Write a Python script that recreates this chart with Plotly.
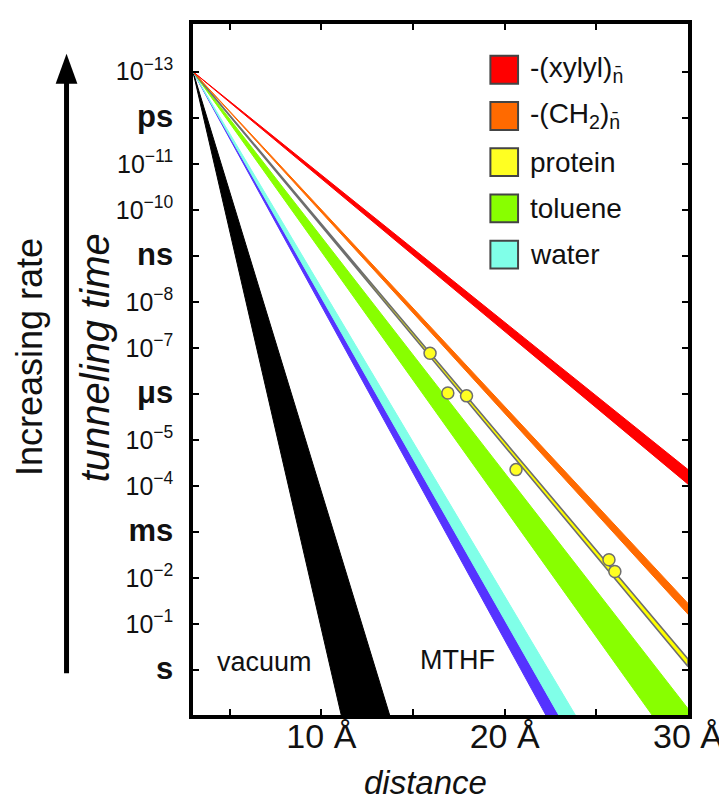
import numpy as np
import plotly.graph_objects as go

# ---------------- data ----------------
origin_distance = 3.0      # Å, common origin of all bands
origin_time = 1e-13        # s
end_distance = 30.0        # Å

band_names = ["vacuum", "MTHF", "water", "toluene", "protein", "-(CH2)n", "-(xylyl)n"]
beta_low = [3.00, 1.613, 1.543, 1.180, 1.088, 0.985, 0.737]    # Å^-1
beta_high = [3.98, 1.672, 1.613, 1.285, 1.102, 1.005, 0.764]   # Å^-1
band_fill = ["#000000", "#5533FF", "#80FFE8", "#88FF00", "#FFFF00", "#FF6A00", "#FF0000"]
band_edge = ["#000000", "#5533FF", "#80FFE8", "#88FF00", "#6E6E6E", "#FF6A00", "#FF0000"]
band_edge_width = [1, 1, 1, 1, 1.6, 1, 1]

protein_distance = [15.93, 16.90, 17.92, 20.62, 25.69, 26.01]
protein_time = [1.3e-7, 9.5e-7, 1.1e-6, 4.4e-5, 4.0e-3, 7.2e-3]

legend_labels = ["-(xylyl)<sub>n̄</sub>", "-(CH<sub>2</sub>)<sub>n̄</sub>", "protein", "toluene", "water"]
legend_colors = ["#FF0000", "#FF6A00", "#FFFF22", "#88FF00", "#80FFE8"]

x_tickvals = [5, 10, 15, 20, 25, 30]
x_ticktext = ["", "10 Å", "", "20 Å", "", "30 Å"]

y_tickvals = [1e-13, 1e-12, 1e-11, 1e-10, 1e-9, 1e-8, 1e-7, 1e-6, 1e-5, 1e-4, 1e-3, 1e-2, 1e-1, 1e0]
y_ticktext = ["10<sup>−13</sup>", "<b>ps</b>", "10<sup>−11</sup>", "10<sup>−10</sup>", "<b>ns</b>",
              "10<sup>−8</sup>", "10<sup>−7</sup>", "<b>μs</b>", "10<sup>−5</sup>", "10<sup>−4</sup>",
              "<b>ms</b>", "10<sup>−2</sup>", "10<sup>−1</sup>", "<b>s</b>"]

# ---------------- layout geometry ----------------
W, H = 727, 803
L, R, T, B = 185, 41, 12, 96
PW, PH = W - L - R, H - T - B


def px(xp):
    return (xp - L) / PW


def py(yp):
    return (H - B - yp) / PH


def big(t):
    if t.startswith("<b>"):
        return '<span style="font-size:31px">' + t + "</span>"
    return t


FONT = "Liberation Sans, Arial, sans-serif"
fig = go.Figure()

for name, bl, bh, fc, ec, ew in zip(band_names, beta_low, beta_high, band_fill, band_edge, band_edge_width):
    t_low = origin_time * np.exp(bl * (end_distance - origin_distance))
    t_high = origin_time * np.exp(bh * (end_distance - origin_distance))
    fig.add_trace(go.Scatter(
        x=[origin_distance, end_distance, end_distance, origin_distance],
        y=[origin_time, t_low, t_high, origin_time],
        mode="lines", fill="toself", fillcolor=fc,
        line=dict(color=ec, width=ew), name=name, showlegend=False, hoverinfo="skip"))

fig.add_trace(go.Scatter(
    x=protein_distance, y=protein_time, mode="markers",
    marker=dict(size=12, color="#FFFF22", line=dict(color="#6E6E6E", width=1.5)),
    showlegend=False))

fig.update_xaxes(
    range=[origin_distance, end_distance], tickvals=x_tickvals, ticktext=x_ticktext,
    ticks="inside", ticklen=6, tickwidth=2, tickcolor="black",
    showline=True, linewidth=3.5, linecolor="black", mirror="ticks",
    showgrid=False, zeroline=False, tickfont=dict(size=34, color="#111", family=FONT),
    ticklabelstandoff=-12)

fig.update_yaxes(
    type="log", range=[0.974, -14.037], tickvals=y_tickvals,
    ticktext=[big(t) for t in y_ticktext],
    ticks="inside", ticklen=6, tickwidth=2, tickcolor="black",
    showline=True, linewidth=3.5, linecolor="black", mirror="ticks",
    showgrid=False, zeroline=False, tickfont=dict(size=25, color="#111", family=FONT),
    ticklabelstandoff=11)

annotations = [
    dict(text="vacuum", x=px(257), y=py(654), font=dict(size=27)),
    dict(text="MTHF", x=px(453), y=py(652), font=dict(size=27)),
    dict(text="<i>distance</i>", x=px(420), y=py(775), font=dict(size=33)),
    dict(text="Increasing rate", x=px(19), y=py(347), font=dict(size=36), textangle=-90),
    dict(text="<i>tunneling time</i>", x=px(86), y=py(348), font=dict(size=40), textangle=-90),
]
shapes = [
    dict(type="line", x0=px(57), x1=px(57), y0=py(665), y1=py(62),
         line=dict(color="black", width=5)),
    dict(type="path", path=f"M {px(46)} {py(72)} L {px(68)} {py(72)} L {px(57)} {py(42)} Z",
         fillcolor="black", line=dict(width=0)),
]

row_y = [58, 104.5, 151, 197.5, 244]
for lab, col, yy in zip(legend_labels, legend_colors, row_y):
    shapes.append(dict(type="rect", x0=px(486), x1=px(514), y0=py(yy - 14), y1=py(yy + 14),
                       fillcolor=col, line=dict(color="#444", width=2)))
    annotations.append(dict(text=lab, x=px(524), y=py(yy), xanchor="left", font=dict(size=28)))

for a in annotations:
    a.setdefault("xanchor", "center")
    a["xref"] = "paper"
    a["yref"] = "paper"
    a["showarrow"] = False
    a["yanchor"] = "middle"
    a["font"].update(color="#111", family=FONT)
for s in shapes:
    s["xref"] = "paper"
    s["yref"] = "paper"

fig.update_layout(
    width=W, height=H, margin=dict(l=L, r=R, t=T, b=B),
    paper_bgcolor="white", plot_bgcolor="white",
    annotations=annotations, shapes=shapes, showlegend=False,
    font=dict(family=FONT, color="#111"))

fig.write_html("out.html")
